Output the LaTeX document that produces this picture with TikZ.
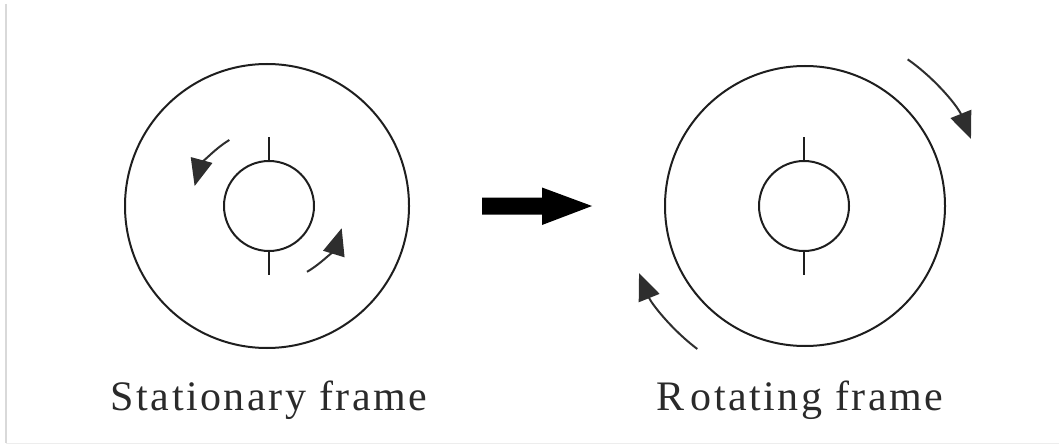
\documentclass[tikz,border=0pt]{standalone}
\usepackage{fontspec}
\setmainfont{Liberation Serif}
\newfontfamily\labelfont[LetterSpace=6]{Liberation Serif}
\usetikzlibrary{arrows.meta,calc}
\definecolor{ink}{HTML}{1E1E1E}
\definecolor{tipink}{HTML}{2E2E2E}
\definecolor{txt}{HTML}{2A2A2A}
\begin{document}
\begin{tikzpicture}[x=1pt,y=1pt,
  ring/.style={circle, draw=ink, line width=2pt, inner sep=0pt},
  tickline/.style={draw=ink, line width=2.3pt},
  rot/.style={draw=tipink, line width=2pt, -{Triangle[length=27pt,width=22pt]}},
  lbl/.style={font=\labelfont\fontsize{42}{48}\selectfont, text=txt, anchor=base, inner sep=0pt},
  bigarrow/.style={fill=black, draw=none}]
\useasboundingbox (0,0) rectangle (1059,445);
% faint frame border
\draw[color=black!15, line width=1.5pt] (6,441) -- (6,2);
\draw[color=black!7, line width=1pt] (6,2) -- (1059,2);
% left (stationary) disc
\node[ring, minimum size=284pt] (Lout) at (267,239) {};
\node[ring, minimum size=90pt] (Lin) at (269,239) {};
\coordinate (Ltt) at ($(Lin.north)+(0,23)$);
\coordinate (Lbt) at ($(Lin.south)+(0,-23)$);
\draw[tickline] (Lin.north) -- (Ltt);
\draw[tickline] (Lin.south) -- (Lbt);
\coordinate (La1) at ($(Lin.center)+(121:77)$);
\coordinate (La2) at ($(Lin.center)+(-60:76)$);
\draw[rot] (La1) arc[start angle=121, end angle=165, radius=77];
\draw[rot] (La2) arc[start angle=-60, end angle=-17, radius=76];
% right (rotating) disc
\node[ring, minimum size=280pt] (Rout) at (805,239) {};
\node[ring, minimum size=90pt] (Rin) at (804,239) {};
\coordinate (Rtt) at ($(Rin.north)+(0,23)$);
\coordinate (Rbt) at ($(Rin.south)+(0,-23)$);
\draw[tickline] (Rin.north) -- (Rtt);
\draw[tickline] (Rin.south) -- (Rbt);
\coordinate (Ra1) at ($(Rout.center)+(55:179)$);
\coordinate (Ra2) at ($(Rout.center)+(-127:179)$);
\draw[rot] (Ra1) arc[start angle=55, end angle=22, radius=179];
\draw[rot] (Ra2) arc[start angle=-127, end angle=-158, radius=179];
% middle block arrow
\coordinate (M) at (482,239);
\fill[bigarrow] ($(M)+(0,8.5)$) -- ++(60,0) -- ++(0,10) -- (592,239) -- (542,220) -- (542,230.5) -- ($(M)+(0,-8.5)$) -- cycle;
% labels
\node[lbl] (Llab) at (269,35) {Stationary frame};
\node[lbl] (Rlab) at (800,35) {R\kern6pt otating frame};
\end{tikzpicture}
\end{document}
